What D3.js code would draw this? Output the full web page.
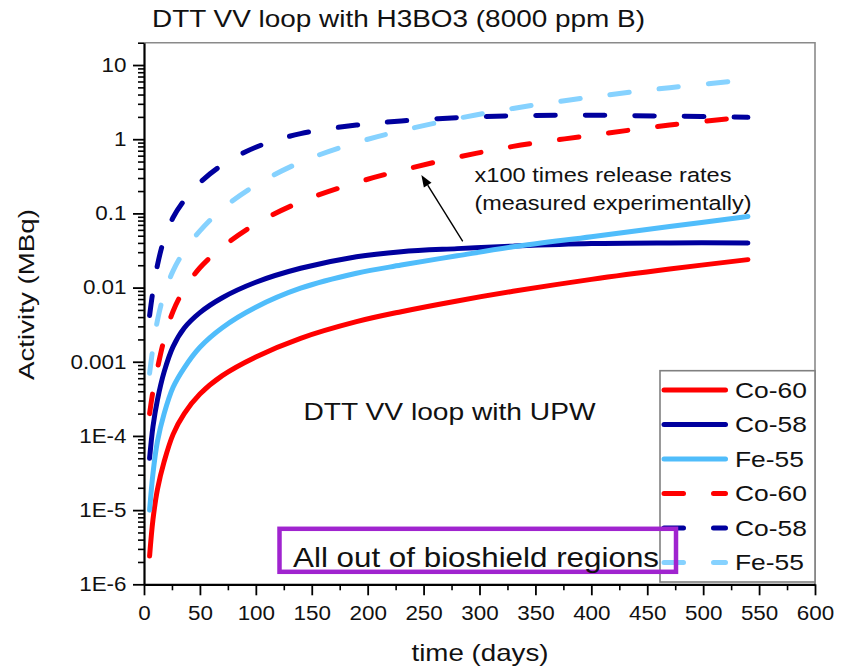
<!DOCTYPE html>
<html>
<head>
<meta charset="utf-8">
<script src="https://cdn.jsdelivr.net/npm/d3@7"></script>
<style>
  html, body { margin: 0; padding: 0; background: #ffffff; }
  svg { display: block; font-family: "Liberation Sans", Arial, sans-serif; }
</style>
</head>
<body>
<svg id="chart" width="843" height="669"></svg>
<script>
// Sampling times (days) shared by all curves
const days = [5, 8, 12, 18, 26, 36, 50, 70, 100, 140, 190, 230, 280, 330, 400, 470, 540];

// Activity (MBq) in the loop with UPW
const co60Upw = [2.4e-6, 7.4e-6, 1.9e-5, 4.5e-5, 1.05e-4, 2.0e-4, 3.67e-4, 6.5e-4, 1.16e-3, 2.07e-3, 3.47e-3, 4.73e-3, 6.6e-3, 8.9e-3, 0.0129, 0.0178, 0.0238];
const co58Upw = [5.0e-5, 1.33e-4, 3.05e-4, 7.3e-4, 1.6e-3, 2.85e-3, 4.6e-3, 7.3e-3, 0.0118, 0.0182, 0.0261, 0.0305, 0.0335, 0.0362, 0.0392, 0.0400, 0.0400];
const fe55Upw = [1.0e-5, 3.1e-5, 8.4e-5, 2.0e-4, 4.53e-4, 8.3e-4, 1.57e-3, 2.88e-3, 5.43e-3, 9.8e-3, 0.0156, 0.0201, 0.0268, 0.0354, 0.0485, 0.0664, 0.091];

// Activity (MBq) with H3BO3, x100 release rates
const co60Boric = [2.0e-4, 4.0e-4, 8.1e-4, 2.0e-3, 4.8e-3, 9.5e-3, 0.0185, 0.035, 0.072, 0.143, 0.26, 0.38, 0.57, 0.80, 1.13, 1.55, 2.0];
const co58Boric = [4.2e-3, 9.0e-3, 0.020, 0.045, 0.088, 0.15, 0.26, 0.45, 0.78, 1.19, 1.55, 1.76, 1.95, 2.07, 2.10, 2.05, 1.97];
const fe55Boric = [7.0e-4, 1.55e-3, 3.6e-3, 8.2e-3, 0.0168, 0.031, 0.058, 0.115, 0.24, 0.49, 0.90, 1.3, 1.9, 2.6, 3.7, 4.95, 6.3];

// Axis ticks
const xTicks = [0, 50, 100, 150, 200, 250, 300, 350, 400, 450, 500, 550, 600];
const yTicks = [1e-6, 1e-5, 1e-4, 1e-3, 0.01, 0.1, 1, 10];
const yTickLabels = ["1E-6", "1E-5", "1E-4", "0.001", "0.01", "0.1", "1", "10"];

// Legend order and names
const seriesNames = ["Co-60", "Co-58", "Fe-55", "Co-60", "Co-58", "Fe-55"];

const series = [
  { name: seriesNames[0], values: co60Upw,   color: "#ff0000", dashed: false },
  { name: seriesNames[1], values: co58Upw,   color: "#00009e", dashed: false },
  { name: seriesNames[2], values: fe55Upw,   color: "#50bdfb", dashed: false },
  { name: seriesNames[3], values: co60Boric, color: "#ff0000", dashed: true },
  { name: seriesNames[4], values: co58Boric, color: "#00009e", dashed: true },
  { name: seriesNames[5], values: fe55Boric, color: "#86d2ff", dashed: true }
];

const svg = d3.select("#chart");
const W = 843, H = 669;
const plot = { left: 144, right: 815, top: 42.7, bottom: 584.3 };
const STRETCH = 1.15;   // glyphs are drawn a little wider than the plain font
const DASH = "19.5,30";

svg.append("rect").attr("width", W).attr("height", H).attr("fill", "#fff");

const x = d3.scaleLinear().domain([0, 600]).range([plot.left, plot.right]);
const y = d3.scaleLog().domain([1e-6, 20]).range([plot.bottom, plot.top]);

// frame: top and right sides in grey
svg.append("path")
  .attr("d", `M${plot.left},${plot.top}H${plot.right}V${plot.bottom}`)
  .attr("fill", "none").attr("stroke", "#8a8a8a").attr("stroke-width", 1.6);

// curves
const line = d3.line()
  .x((d, i) => x(days[i]))
  .y(d => y(d))
  .curve(d3.curveCatmullRom.alpha(0.5));

const curves = svg.append("g");
series.forEach(s => {
  curves.append("path")
    .datum(s.values)
    .attr("d", line)
    .attr("fill", "none")
    .attr("stroke", s.color)
    .attr("stroke-width", 5)
    .attr("stroke-linecap", "round")
    .attr("stroke-linejoin", "round")
    .attr("stroke-dasharray", s.dashed ? DASH : null);
});

// minor ticks
const yMinor = [];
for (let e = -6; e <= 1; e++) for (let k = 2; k <= 9; k++) {
  const v = k * Math.pow(10, e);
  if (v <= 20) yMinor.push(v);
}
const xMinor = d3.range(25, 600, 50);

svg.append("g").attr("transform", `translate(${plot.left},0)`)
  .call(d3.axisLeft(y).tickValues(yMinor).tickFormat("").tickSize(6).tickSizeOuter(0))
  .call(g => g.select(".domain").remove())
  .call(g => g.selectAll("line").attr("stroke", "#000").attr("stroke-width", 1.6));

svg.append("g").attr("transform", `translate(0,${plot.bottom})`)
  .call(d3.axisBottom(x).tickValues(xMinor).tickFormat("").tickSize(6).tickSizeOuter(0))
  .call(g => g.select(".domain").remove())
  .call(g => g.selectAll("line").attr("stroke", "#000").attr("stroke-width", 1.6));

// major axes
const yAxis = svg.append("g").attr("transform", `translate(${plot.left},0)`)
  .call(d3.axisLeft(y).tickValues(yTicks)
    .tickFormat((d, i) => yTickLabels[i]).tickSize(11).tickPadding(6.5).tickSizeOuter(0));

const xAxis = svg.append("g").attr("transform", `translate(0,${plot.bottom})`)
  .call(d3.axisBottom(x).tickValues(xTicks).tickSize(11).tickPadding(10.5).tickSizeOuter(0));

[yAxis, xAxis].forEach(g => {
  g.select(".domain").attr("stroke", "#000").attr("stroke-width", 2.2);
  g.selectAll(".tick line").attr("stroke", "#000").attr("stroke-width", 1.8);
  g.selectAll(".tick text")
    .attr("fill", "#111")
    .style("font-family", "'Liberation Sans', Arial, sans-serif")
    .style("font-size", "19.5px")
    .attr("transform", function () {
      const tx = +d3.select(this).attr("x") || 0;
      return `translate(${tx},0) scale(${STRETCH},1) translate(${-tx},0)`;
    });
});

// texts
function label(txt, px, py, size, len, anchor) {
  return svg.append("text")
    .attr("x", px).attr("y", py)
    .attr("font-size", size)
    .attr("fill", "#111")
    .attr("text-anchor", anchor || "start")
    .attr("textLength", len)
    .attr("lengthAdjust", "spacingAndGlyphs")
    .text(txt);
}

label("DTT VV loop with H3BO3 (8000 ppm B)", 152, 27, 24.5, 493);
label("time (days)", 480, 661, 24, 137, "middle");
label("DTT VV loop with UPW", 303.5, 420, 24, 292);
label("x100 times release rates", 474.5, 181.5, 20.5, 257);
label("(measured experimentally)", 474.5, 210, 20.5, 277);

svg.append("text")
  .attr("transform", "translate(33.5,294.5) rotate(-90)")
  .attr("text-anchor", "middle")
  .attr("font-size", 22)
  .attr("fill", "#111")
  .attr("textLength", 171)
  .attr("lengthAdjust", "spacingAndGlyphs")
  .text("Activity (MBq)");

// arrow pointing from the UPW curves up to the x100 curves
const arrowFrom = { t: 285, v: 0.042 };
const arrowTo = { t: 248, v: 0.33 };
const ax0 = x(arrowFrom.t), ay0 = y(arrowFrom.v), ax1 = x(arrowTo.t), ay1 = y(arrowTo.v);
const ang = Math.atan2(ay1 - ay0, ax1 - ax0);
const headLen = 12, headW = 4.5;
const bx = ax1 - headLen * Math.cos(ang), by = ay1 - headLen * Math.sin(ang);
svg.append("line")
  .attr("x1", ax0).attr("y1", ay0).attr("x2", bx).attr("y2", by)
  .attr("stroke", "#000").attr("stroke-width", 1.4);
svg.append("path")
  .attr("d", `M${ax1},${ay1}L${bx + headW * Math.sin(ang)},${by - headW * Math.cos(ang)}L${bx - headW * Math.sin(ang)},${by + headW * Math.cos(ang)}Z`)
  .attr("fill", "#000");

// legend
const legend = svg.append("g");
const lg = { x0: 660, x1: 815, y0: 370.7, y1: 582, firstRow: 390, rowStep: 34.5 };
legend.append("rect")
  .attr("x", lg.x0).attr("y", lg.y0)
  .attr("width", lg.x1 - lg.x0).attr("height", lg.y1 - lg.y0)
  .attr("fill", "#fff").attr("stroke", "#808080").attr("stroke-width", 1.6);

series.forEach((s, i) => {
  const ry = lg.firstRow + i * lg.rowStep;
  legend.append("line")
    .attr("x1", 664).attr("x2", 725.5).attr("y1", ry).attr("y2", ry)
    .attr("stroke", s.color).attr("stroke-width", 5)
    .attr("stroke-linecap", "round")
    .attr("stroke-dasharray", s.dashed ? DASH : null);
  legend.append("text")
    .attr("x", 735).attr("y", ry).attr("dy", "0.36em")
    .attr("font-size", 22).attr("fill", "#111")
    .attr("transform", `translate(735,0) scale(1.2,1) translate(-735,0)`)
    .text(s.name);
});

// highlighted region note
svg.append("rect")
  .attr("x", 279.5).attr("y", 528.8)
  .attr("width", 396.5).attr("height", 43)
  .attr("fill", "none").attr("stroke", "#a024cf").attr("stroke-width", 4.5);
label("All out of bioshield regions", 293, 566.5, 28, 366);
</script>
</body>
</html>
